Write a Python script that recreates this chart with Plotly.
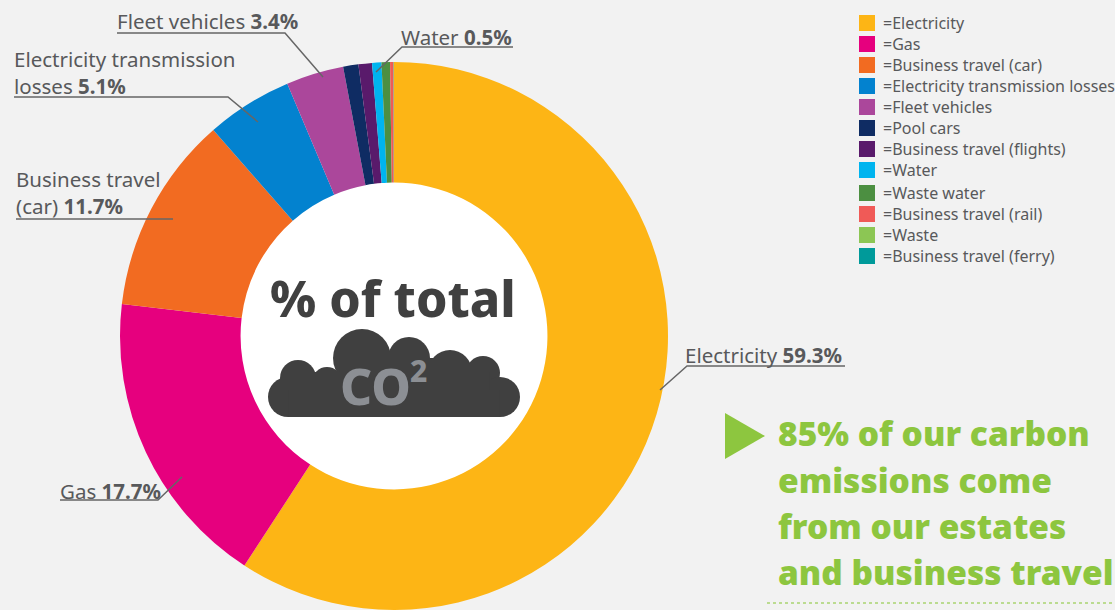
import plotly.graph_objects as go

W, H = 1115, 610
FONT = "Noto Sans"
TXT = "#58595b"
DARK = "#404040"
GREEN = "#8dc63f"

categories = ["Electricity", "Gas", "Business travel (car)", "Electricity transmission losses",
              "Fleet vehicles", "Pool cars", "Business travel (flights)", "Water", "Waste water",
              "Business travel (rail)", "Waste", "Business travel (ferry)"]
values = [59.3, 17.7, 11.7, 5.1, 3.4, 0.9, 0.8, 0.55, 0.5, 0.2, 0.02, 0.01]
colors = ["#fdb515", "#e6007e", "#f26b21", "#0382cf", "#ab479b", "#0f2c63", "#591a6b",
          "#00b4ef", "#4c8f41", "#f05a57", "#8cc654", "#009a9a"]
legend_y = [23, 44, 65, 86, 107, 128, 149, 170, 193, 214, 235, 256]

def px(x): return x / W
def py(y): return 1 - y / H

def text(x, y, s, size=20.5, color=TXT, anchor="left", weight=None):
    return dict(x=px(x), y=py(y), xref="paper", yref="paper", text=s, showarrow=False,
                xanchor=anchor, yanchor="middle", align="left",
                font=dict(family=FONT, size=size, color=color, weight=weight))

def circle(cx, cy, r, fill, layer="above"):
    return dict(type="circle", xref="paper", yref="paper", x0=px(cx - r), x1=px(cx + r),
                y0=py(cy + r), y1=py(cy - r), fillcolor=fill, line_width=0, layer=layer)

def poly(points, color=None, fill=None, width=1.5, dash=None):
    d = "M" + " L".join(f"{px(a):.5f},{py(b):.5f}" for a, b in points)
    if fill:
        return dict(type="path", xref="paper", yref="paper", path=d + " Z", fillcolor=fill, line_width=0)
    return dict(type="path", xref="paper", yref="paper", path=d,
                line=dict(color=color, width=width, dash=dash))

fig = go.Figure(go.Pie(
    labels=categories, values=values, sort=False, direction="clockwise",
    rotation=0, hole=0.56, textinfo="none", marker=dict(colors=colors, line_width=0),
    domain=dict(x=[px(120), px(668)], y=[0, 548 / H]), showlegend=False,
))

shapes = [circle(394, 336, 154, "white", "below")]
leaders = [
    [(660, 390), (687, 366), (845, 366)],
    [(182, 477), (158, 500), (60, 500)],
    [(173, 219), (16, 219)],
    [(258, 122), (228, 97), (14, 97)],
    [(323, 77), (285, 33), (117, 33)],
    [(376, 72), (402, 47), (513, 47)],
]
shapes += [poly(p, color="#666666") for p in leaders]

# cloud
for c in [(362, 358, 29), (409, 358, 21), (450, 372, 22), (483, 373, 17), (500, 397, 20),
          (288, 397, 20), (298, 378, 18), (327, 382, 15)]:
    shapes.append(circle(*c, DARK))
shapes.append(poly([(340, 358), (440, 358), (440, 375), (340, 375)], fill=DARK))
shapes.append(poly([(300, 372), (490, 372), (490, 417), (300, 417)], fill=DARK))
shapes.append(poly([(288, 390), (500, 390), (500, 417), (288, 417)], fill=DARK))

# callout
shapes.append(poly([(725, 413), (765, 436), (725, 459)], fill=GREEN))
shapes.append(poly([(767, 603), (1115, 603)], color="#a9d470", width=1.5, dash="dot"))

annotations = [
    text(683, 355, "Electricity <b>59.3%</b>"),
    text(58, 491, "Gas <b>17.7%</b>"),
    text(14, 192, "Business travel<br>(car) <b>11.7%</b>"),
    text(12, 73, "Electricity transmission<br>losses <b>5.1%</b>"),
    text(115, 21, "Fleet vehicles <b>3.4%</b>"),
    text(399, 37, "Water <b>0.5%</b>"),
    text(393, 298, "% of total", size=50, color=DARK, anchor="center", weight=800),
    text(375, 386, "CO", size=50, color="#8c8f94", anchor="center", weight=800),
    text(418, 370, "2", size=30, color="#8c8f94", anchor="center", weight=800),
]
for y, s in zip([433, 480, 526, 572],
                ["85% of our carbon", "emissions come", "from our estates", "and business travel"]):
    annotations.append(text(776, y, s, size=33.5, color=GREEN, weight=900))

# legend
for name, color, y in zip(categories, colors, legend_y):
    shapes.append(poly([(859, y - 8), (875, y - 8), (875, y + 8), (859, y + 8)], fill=color))
    annotations.append(text(881, y, "=" + name, size=16, color=TXT))

fig.update_layout(
    width=W, height=H, margin=dict(l=0, r=0, t=0, b=0),
    paper_bgcolor="#f2f2f2", plot_bgcolor="#f2f2f2",
    font=dict(family=FONT, color=TXT, size=15),
    shapes=shapes, annotations=annotations, showlegend=False,
)
fig.write_html("out.html", post_script="document.body.style.margin='0';",
               config=dict(displayModeBar=False))
